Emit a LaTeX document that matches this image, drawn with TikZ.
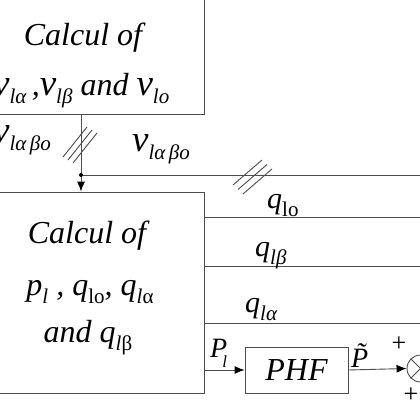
\documentclass[tikz,border=0pt]{standalone}
\usepackage{fontspec}
\setmainfont{Liberation Serif}
\usetikzlibrary{arrows.meta}
\newcommand{\ix}[1]{\raisebox{-8pt}{\fontsize{21}{21}\selectfont #1}}
\newcommand{\bigv}{{\fontsize{37}{40}\selectfont v}}

\begin{document}
\begin{tikzpicture}[x=1pt,y=-1pt]
            \tikzstyle{every node}+=[inner sep=0pt]
            \tikzstyle{blk}=[draw=black!70, line width=0.9pt]
            \tikzstyle{wire}=[draw=black!70, line width=0.9pt]
            \tikzstyle{arr}=[wire, -{Latex[length=10pt,width=8pt,fill=black,color=black]}]
            \tikzstyle{big}=[font=\fontsize{32}{38}\selectfont\itshape]
            \tikzstyle{mid}=[font=\fontsize{30}{36}\selectfont\itshape]
            \tikzstyle{sgn}=[font=\fontsize{26}{30}\selectfont]
            \useasboundingbox (0,0) rectangle (420,420);
            \clip (0,0) rectangle (420,420);
            \node [blk, minimum width=242pt, minimum height=134pt] (calcv) at (83,47) {};
            \node [big, anchor=base] (tcalcv) at (83,46) {Calcul of};
            \node [big, anchor=base west] (tvlist) at (-7,95) {\bigv\ix{lα}\,,\bigv\ix{lβ} and \bigv\ix{lo}};
            \node [blk, minimum width=234pt, minimum height=201pt] (calcpq) at (87,292.5) {};
            \node [big, anchor=base] (tcalcpq) at (87,243) {Calcul of};
            \node [big, anchor=base] (tplist) at (90,295) {p\ix{l} , q\ix{\upshape lo}, q\ix{l\upshape α}};
            \node [big, anchor=base] (tqlist) at (88,342) {and q\ix{l\upshape β}};
            \coordinate (vtap) at (81,175);
            \coordinate (vend) at (430,175);
            \draw [wire] (calcv.south -| vtap) -- (vtap);
            \draw [arr] (vtap) -- (calcpq.north -| vtap);
            \draw [wire] (vtap) -- (vend);
            \fill [black] (vtap) circle (2pt);
            \foreach \d in {0,5,10}
              \draw [wire] (63+\d,157+0.6*\d) -- (87+\d,127+0.6*\d);
            \foreach \d in {0,5,10}
              \draw [wire] (233+\d,185+0.9*\d) -- (262+\d,160+0.9*\d);
            \node [big, anchor=base west] (vleft) at (-7,142) {\bigv\ix{lα\,βo}};
            \node [big, anchor=base west] (vright) at (132,151) {\bigv\ix{lα\,βo}};
            \coordinate (qo) at (430,217);
            \coordinate (qb) at (430,266);
            \coordinate (qa) at (430,323);
            \draw [wire] (calcpq.east |- qo) -- (qo);
            \draw [wire] (calcpq.east |- qb) -- (qb);
            \draw [wire] (calcpq.east |- qa) -- (qa);
            \node [mid, anchor=base west] (lqo) at (267,208) {q\ix{\upshape lo}};
            \node [mid, anchor=base west] (lqb) at (255,256) {q\ix{lβ}};
            \node [mid, anchor=base west] (lqa) at (245,312) {q\ix{lα}};
            \node [blk, big, minimum width=103pt, minimum height=46pt] (phf) at (296.5,370) {PHF};
            \draw [arr] (calcpq.east |- phf.west) -- (phf.west);
            \node [font=\fontsize{28}{32}\selectfont\itshape, anchor=base west] (lpl) at (210,357) {P\hspace{-5pt}\raisebox{-10pt}{\fontsize{17}{17}\selectfont l}};
            \node [blk, circle, minimum size=27pt] (sum) at (420.5,368.5) {};
            \draw [wire] (sum.north west) -- (sum.south east);
            \draw [wire] (sum.south west) -- (sum.north east);
            \draw [arr] (phf.east) -- (sum.west);
            \node [font=\fontsize{28}{32}\selectfont\itshape, anchor=base west] (lpt) at (351,367) {\~{P}};
            \coordinate (pin) at (442,398);
            \draw [arr] (pin) -- (sum.-75);
            \node [sgn] (pup) at (399,344) {+};
            \node [sgn] (pdown) at (411,395) {+};
          \end{tikzpicture}
\end{document}
